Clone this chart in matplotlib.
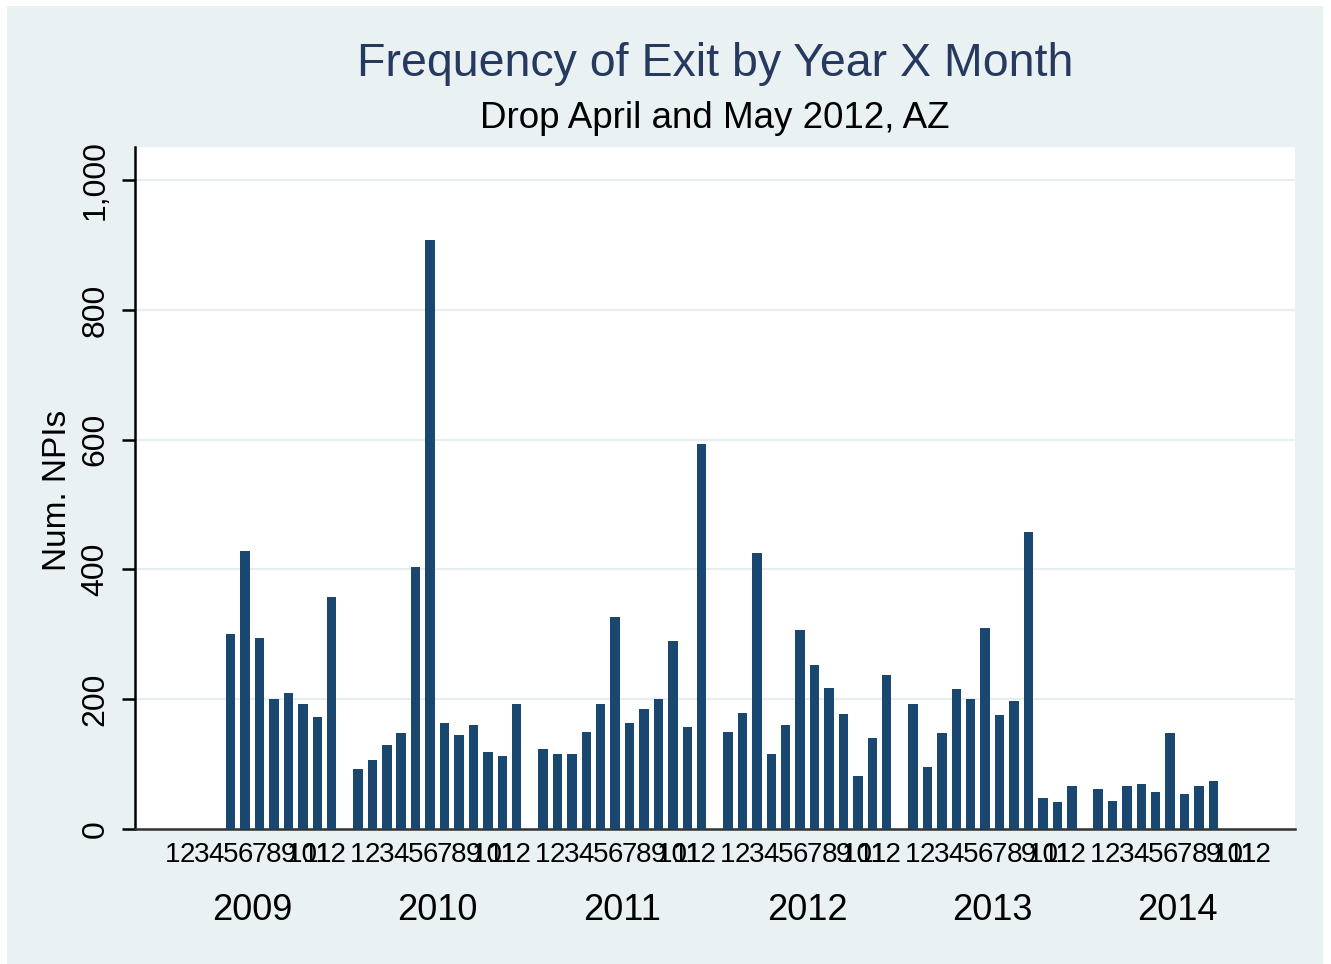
import matplotlib
matplotlib.use("Agg")
import matplotlib.pyplot as plt
from matplotlib.patches import Rectangle
from matplotlib.transforms import blended_transform_factory

plt.rcParams['font.family'] = ['Liberation Sans', 'DejaVu Sans']

years = [2009, 2010, 2011, 2012, 2013, 2014]
months = list(range(1, 13))
# exits per month, by year (None = no bar)
exits_2009 = [None, None, None, None, 300, 428, 295, 200, 210, 193, 172, 357]
exits_2010 = [92, 107, 130, 148, 403, 907, 164, 145, 161, 119, 112, 192]
exits_2011 = [124, 116, 116, 150, 192, 327, 164, 185, 201, 290, 157, 594]
exits_2012 = [149, 179, 426, 116, 160, 307, 252, 217, 177, 81, 141, 237]
exits_2013 = [193, 95, 148, 215, 200, 309, 175, 197, 457, 48, 41, 66]
exits_2014 = [61, 43, 66, 69, 57, 148, 54, 66, 74, None, None, None]
all_exits = [exits_2009, exits_2010, exits_2011, exits_2012, exits_2013, exits_2014]
yticks = [0, 200, 400, 600, 800, 1000]
ytick_labels = ["0", "200", "400", "600", "800", "1,000"]

bg = "#e9f1f3"
bar_color = "#1a476f"
group_gap = 0.82

fig = plt.figure(figsize=(13.31, 9.64), dpi=100, facecolor="white")
fig.patches.append(Rectangle((7 / 1331, 0), 1316 / 1331, 1 - 6 / 964,
                             transform=fig.transFigure, facecolor=bg,
                             edgecolor="none", zorder=-10))
ax = fig.add_axes([135 / 1331, 135 / 964, 1160 / 1331, 682 / 964])
ax.set_facecolor("white")

xs, hs, tick_pos, tick_lab, year_centers = [], [], [], [], []
for yi, vals in enumerate(all_exits):
    base = yi * (12 + group_gap)
    year_centers.append(base + 5.5)
    for m, v in zip(months, vals):
        tick_pos.append(base + m - 1)
        tick_lab.append(str(m))
        if v is not None:
            xs.append(base + m - 1)
            hs.append(v)

ax.bar(xs, hs, width=0.66, color=bar_color, zorder=3)

ax.set_xlim(-2.63, 77.75)
ax.set_ylim(0, 1051)
ax.set_yticks(yticks)
ax.set_yticklabels(ytick_labels, rotation=90, va="center", fontsize=23)
ax.set_xticks(tick_pos)
ax.set_xticklabels(tick_lab, fontsize=20)
ax.tick_params(axis="x", length=0, pad=9)
ax.tick_params(axis="y", length=9.5, width=1.8, pad=8, color="black")
ax.grid(axis="y", color="#e6eef0", linewidth=1.6, zorder=0)
for s in ["top", "right"]:
    ax.spines[s].set_visible(False)
ax.spines["left"].set_linewidth(1.8)
ax.spines["bottom"].set_linewidth(1.8)
ax.spines["bottom"].set_color("#333333")

trans = blended_transform_factory(ax.transData, ax.transAxes)
for yc, yr in zip(year_centers, years):
    ax.text(yc, -0.1188, str(yr), transform=trans, ha="center", va="center",
            fontsize=26)

fig.text(57 / 1331, 1 - 490 / 964, "Num. NPIs", rotation=90, ha="center",
         va="center", fontsize=24)
fig.text(715 / 1331, 1 - 64 / 964, "Frequency of Exit by Year X Month",
         ha="center", va="center", fontsize=33.5, color="#26395f")
fig.text(715 / 1331, 1 - 118 / 964, "Drop April and May 2012, AZ",
         ha="center", va="center", fontsize=26.5, color="black")

fig.savefig("out.png", dpi=100, facecolor="white")
